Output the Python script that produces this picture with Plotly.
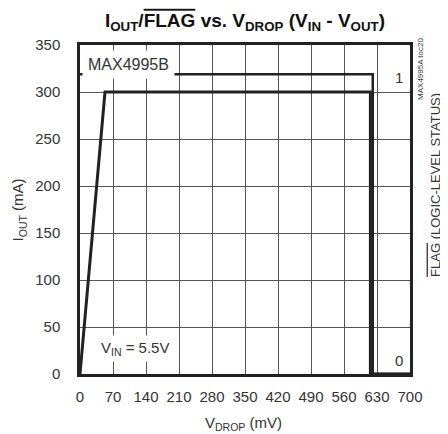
"""IOUT/FLAG vs VDROP - MAX4995"""

import plotly.graph_objects as go

# dados
vdrop_iout = [0, 53, 616, 616, 700]
iout = [0, 300, 300, 0, 0]
vdrop_flag = [0, 621, 621, 700]
flag = [1, 1, 0, 0]

x_ticks = [0, 70, 140, 210, 280, 350, 420, 490, 560, 630, 700]
y_ticks = [0, 50, 100, 150, 200, 250, 300, 350]

FONT = "Liberation Sans, Arial, sans-serif"
GRID = "#555555"

fig = go.Figure()

fig.add_trace(
    go.Scatter(
        x=vdrop_flag,
        y=flag,
        yaxis="y2",
        mode="lines",
        line=dict(color="#222222", width=2.5),
        showlegend=False,
    )
)
fig.add_trace(
    go.Scatter(
        x=vdrop_iout,
        y=iout,
        mode="lines",
        line=dict(color="#222222", width=3),
        showlegend=False,
    )
)

fig.update_layout(
    width=448,
    height=434,
    # a página tem margem de 8px no body
    margin=dict(l=72, r=46, t=37, b=68),
    paper_bgcolor="white",
    plot_bgcolor="white",
    font=dict(family=FONT, size=15, color="#333333"),
    title=dict(
        text="I<sub>OUT</sub>/<span style='text-decoration:overline'>FLAG</span>"
        " vs. V<sub>DROP</sub> (V<sub>IN</sub> - V<sub>OUT</sub>)",
        x=0.5,
        xref="paper",
        xanchor="center",
        y=0.972,
        yanchor="middle",
        font=dict(family=FONT, size=19, color="#111111", weight="bold"),
    ),
    xaxis=dict(
        range=[0, 700],
        tickvals=x_ticks,
        showgrid=True,
        gridcolor=GRID,
        gridwidth=1,
        zeroline=False,
        showline=True,
        linecolor="#222222",
        linewidth=2.5,
        mirror=True,
        ticks="",
        ticklabelstandoff=7,
        automargin=False,
    ),
    yaxis=dict(
        range=[0, 350],
        tickvals=y_ticks,
        showgrid=True,
        gridcolor=GRID,
        gridwidth=1,
        zeroline=False,
        showline=True,
        linecolor="#222222",
        linewidth=2.5,
        mirror=True,
        ticks="",
        ticklabelstandoff=14,
        automargin=False,
    ),
    yaxis2=dict(
        range=[0, 350 / 319],
        overlaying="y",
        side="right",
        showgrid=False,
        zeroline=False,
        showticklabels=False,
        ticks="",
        automargin=False,
    ),
)

# títulos dos eixos
fig.add_annotation(
    x=0.494, y=-0.149, xref="paper", yref="paper",
    xanchor="center", yanchor="middle",
    text="V<sub>DROP</sub> (mV)", showarrow=False,
)
fig.add_annotation(
    x=-0.185, y=0.5, xref="paper", yref="paper",
    xanchor="center", yanchor="middle", textangle=-90,
    text="I<sub>OUT</sub> (mA)", showarrow=False,
)
fig.add_annotation(
    x=1.075, y=0.574, xref="paper", yref="paper",
    xanchor="center", yanchor="middle", textangle=-90,
    text="<span style='text-decoration:overline'>FLAG</span> (LOGIC-LEVEL STATUS)",
    showarrow=False, font=dict(size=13),
)
fig.add_annotation(
    x=1.03, y=0.927, xref="paper", yref="paper",
    xanchor="center", yanchor="middle", textangle=-90,
    text="MAX4995A toc20", showarrow=False, font=dict(size=8),
)

# textos dentro do gráfico
fig.add_annotation(
    x=0.006, y=0.941, xref="paper", yref="paper",
    xanchor="left", yanchor="middle",
    text="MAX4995B", showarrow=False, bgcolor="white", borderpad=5,
    font=dict(size=16),
)
fig.add_annotation(
    x=0.05, y=0.079, xref="paper", yref="paper",
    xanchor="left", yanchor="middle",
    text="V<sub>IN</sub> = 5.5V", showarrow=False, bgcolor="white", borderpad=3,
    font=dict(size=15),
)
fig.add_annotation(
    x=0.967, y=0.901, xref="paper", yref="paper",
    xanchor="center", yanchor="middle",
    text="1", showarrow=False, font=dict(size=15),
)
fig.add_annotation(
    x=0.967, y=0.04, xref="paper", yref="paper",
    xanchor="center", yanchor="middle",
    text="0", showarrow=False, font=dict(size=15),
)

fig.write_html("out.html")
